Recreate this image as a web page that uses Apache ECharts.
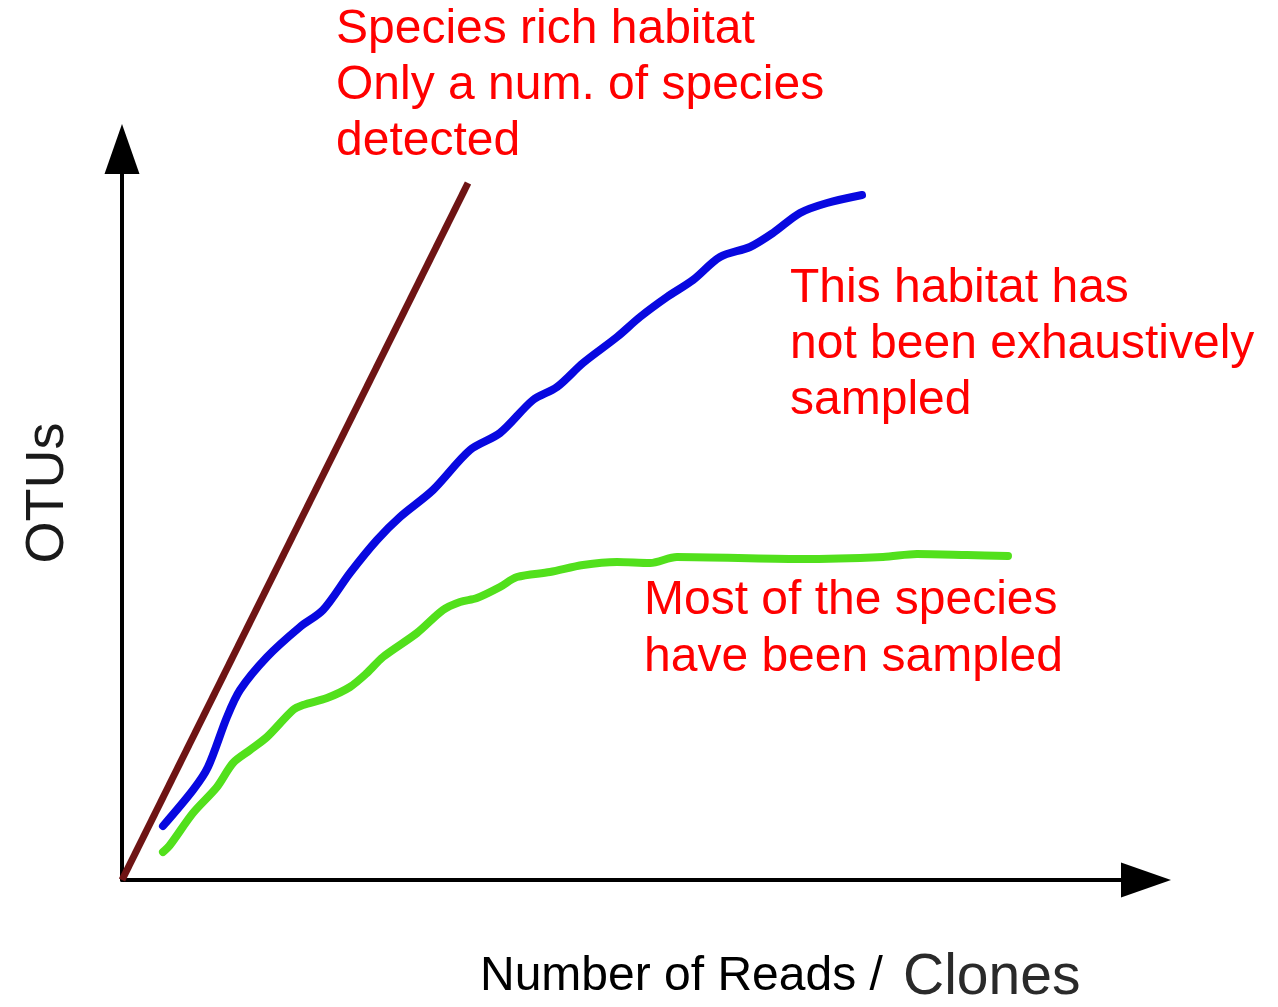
<!DOCTYPE html>
<html>
<head>
<meta charset="utf-8">
<script src="https://cdn.jsdelivr.net/npm/echarts@6/dist/echarts.min.js"></script>
<style>
  html, body { margin: 0; padding: 0; background: #fff; }
  #main { width: 1278px; height: 1007px; }
</style>
</head>
<body>
<div id="main"></div>
<script>
// rarefaction curves, x = reads/clones sampled, y = OTUs found
const richHabitat = [[0, 0], [346, 697]];
const notExhausted = [
  [41, 54], [71, 90], [86, 113], [105, 163], [118, 190], [145, 223], [178, 253],
  [201, 270], [228, 307], [255, 340], [278, 363], [311, 390], [348, 430], [378, 447],
  [411, 480], [435, 493], [461, 517], [495, 543], [518, 563], [545, 583], [571, 600],
  [598, 623], [628, 633], [651, 647], [678, 667], [705, 677], [740, 685]
];
const mostSampled = [
  [41, 28], [48, 35], [71, 67], [95, 93], [111, 117], [128, 130], [145, 143],
  [171, 170], [181, 175], [205, 182], [228, 193], [245, 207], [261, 223], [295, 247],
  [321, 270], [338, 278], [355, 282], [378, 293], [395, 303], [428, 308], [461, 315],
  [495, 318], [528, 317], [555, 323], [678, 321], [761, 323], [795, 326], [845, 325],
  [886, 324]
];
const xMax = 1024;
const yMax = 731;

const noteFont = '"Liberation Sans", Arial, sans-serif';

var myChart = echarts.init(document.getElementById('main'));

const axisCommon = {
    type: 'value',
    min: 0,
    splitLine: { show: false },
    axisTick: { show: false },
    axisLabel: { show: false },
    axisLine: {
        show: true,
        symbol: ['none', 'triangle'],
        symbolSize: [35, 50],
        lineStyle: { color: '#000', width: 4 }
    }
};

const option = {
    backgroundColor: '#fff',
    animation: false,
    grid: { left: 122, right: 132, top: 149, bottom: 127 },
    xAxis: Object.assign({}, axisCommon, { max: xMax }),
    yAxis: Object.assign({}, axisCommon, { max: yMax }),
    series: [
        {
            name: 'Species rich habitat',
            type: 'line',
            data: richHabitat,
            showSymbol: false,
            clip: false,
            lineStyle: { color: '#6e1414', width: 7 }
        },
        {
            name: 'Not exhaustively sampled',
            type: 'line',
            data: notExhausted,
            smooth: 0.3,
            showSymbol: false,
            clip: false,
            lineStyle: { color: '#0808e0', width: 8, cap: 'round' }
        },
        {
            name: 'Most species sampled',
            type: 'line',
            data: mostSampled,
            smooth: 0.3,
            showSymbol: false,
            clip: false,
            lineStyle: { color: '#52e01c', width: 8, cap: 'round' }
        }
    ],
    graphic: [
        {
            type: 'text', x: 336, y: 2,
            style: {
                text: 'Species rich habitat\nOnly a num. of species\ndetected',
                fill: '#ff0000', font: '48px ' + noteFont, lineHeight: 56, verticalAlign: 'top'
            }
        },
        {
            type: 'text', x: 790, y: 261,
            style: {
                text: 'This habitat has\nnot been exhaustively\nsampled',
                fill: '#ff0000', font: '48px ' + noteFont, lineHeight: 56, verticalAlign: 'top'
            }
        },
        {
            type: 'text', x: 644, y: 572,
            style: {
                text: 'Most of the species\nhave been sampled',
                fill: '#ff0000', font: '48px ' + noteFont, lineHeight: 57, verticalAlign: 'top'
            }
        },
        {
            type: 'text', x: 480, y: 977,
            style: {
                text: 'Number of Reads /',
                fill: '#000', font: '48px ' + noteFont, verticalAlign: 'middle'
            }
        },
        {
            type: 'text', x: 903, y: 978,
            style: {
                text: 'Clones',
                fill: '#2a2a2a', font: '57px ' + noteFont, verticalAlign: 'middle'
            }
        },
        {
            type: 'text', x: 48, y: 493, rotation: Math.PI / 2,
            style: {
                text: 'OTUs',
                fill: '#1a1a1a', font: '54px ' + noteFont, align: 'center', verticalAlign: 'middle'
            }
        }
    ]
};

myChart.setOption(option);
</script>
</body>
</html>
